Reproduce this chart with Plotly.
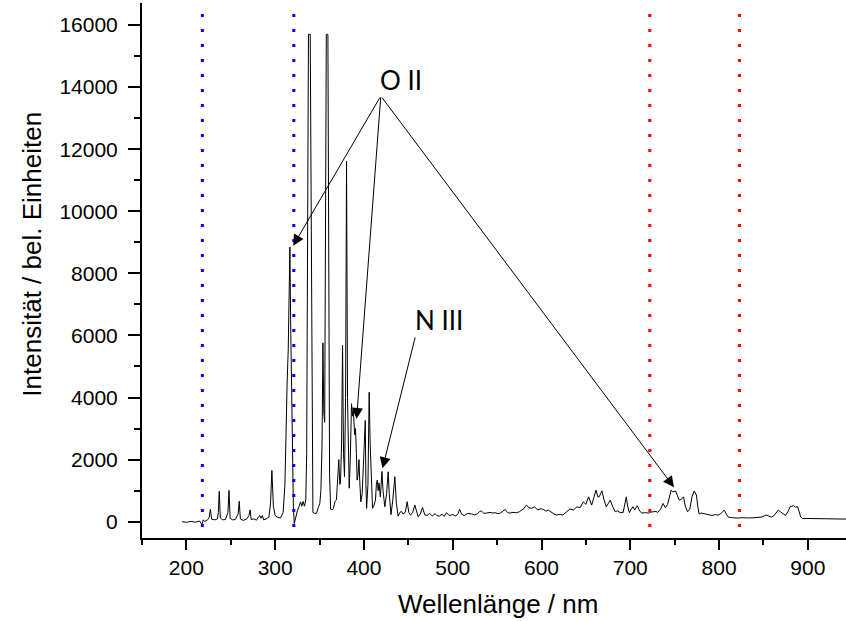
import plotly.graph_objects as go

# ---- spectrum ----
wavelength = [
    195, 200, 205, 210, 215, 217.5, 219, 220.5, 223, 225.5, 227, 228.5, 232, 235, 236, 237, 238.2,
    241, 244, 246.8, 248, 249.3, 252, 255, 258.3, 259.5, 260.8, 264, 268, 270.5, 271.8, 273, 276,
    279, 281, 282.8, 284, 285.6, 287, 290, 293, 294.8, 296.3, 298, 300, 303, 306, 309, 311,
    312, 313.5, 314.7, 315.8, 316.6, 317.4, 318.4, 319.5, 320.5, 321.5, 323, 325, 327, 328.6,
    330, 331.5, 333, 334.5, 335.5, 336.5, 337.5, 339.5, 340.5, 341.5, 342.5, 344.5, 346.6,
    348.5, 350.3, 351.5, 352.8, 353.8, 354.8, 355.8, 356.8, 357.6, 359.4, 360.4, 361.3, 362.5,
    364, 365.5, 367.5, 369, 370.5, 371.7, 372.8, 373.6, 374.8, 375.9, 377, 378.1, 379.3, 380.4,
    381.5, 382.6, 383.4, 384.6, 386, 387, 388, 389.5, 390.5, 391.5, 392.3, 393.3, 394.4, 395.3,
    396.5, 398, 399.5, 400.6, 401.5, 402.2, 403, 404.5, 405.9, 407, 408.5, 409.7, 411, 413,
    414, 415, 416, 417, 418.5, 420.3, 421.5, 423.5, 425.5, 427.3, 428.5, 430.5, 432.5, 434.8,
    436.5, 438.5, 440.5, 442.3, 444, 446.5, 448.7, 450.5, 452.5, 455, 457.3, 459.5, 461,
    463.5, 466, 468.5, 471, 474, 477, 480, 482, 485, 488, 490.5, 493, 496, 500, 503.5,
    506, 507.8, 510, 513, 517, 521, 525, 528, 530.5, 532.4, 535, 538, 542, 545, 547.7,
    551, 554, 556.5, 559, 562, 564.5, 568, 572, 575, 577, 580, 583, 586, 589, 592, 596,
    599, 602, 605, 607.6, 611, 614, 617, 621, 624, 628, 632, 636, 640, 643.5, 647, 650, 653,
    656.5, 659, 661.4, 663.5, 665, 666.5, 668, 670.5, 673, 675.5, 677.5, 680, 683, 685.5,
    688.7, 692, 694, 695.5, 697, 699, 701, 703, 705, 708, 710.5, 713, 717, 720.5, 723, 726,
    729, 731, 734, 737, 739.5, 742, 744, 746, 748, 751, 753, 755, 757.5, 760, 762, 764.5,
    767, 769.5, 772, 774.5, 776, 777.5, 780, 784, 788, 792, 796, 799, 802, 804, 806, 808,
    810.5, 814, 818, 821.7, 825, 829, 833, 838, 844, 848, 851, 853.6, 856, 859, 862, 864.5,
    866.8, 869, 872, 875, 878, 880, 882, 884, 886, 888.5, 890, 892, 894, 900, 905, 910, 915,
    920, 925, 930, 935, 943,
]
intensity = [
    0, -20, 10, -15, 20, -90, 60, 10, 40, 110, 400, 80, 60, 90, 300, 980, 120,
    60, 70, 300, 1010, 110, 60, 70, 250, 660, 90, 40, 90, 200, 380, 70, 90,
    50, 150, 200, 110, 200, 60, 90, 150, 600, 1650, 500, 200, 140, 120, 300, 1200,
    2860, 4500, 5530, 7500, 8850, 6500, 3920, 1500, 500, -60, 150, 350, 500, 640,
    500, 650, 500, 700, 2200, 9000, 15700, 15700, 9000, 2000, 300, 270, 270,
    450, 590, 1000, 2500, 5760, 3500, 3200, 9000, 15700, 15700, 8000, 1500, 400,
    380, 420, 660, 700, 1400, 2000, 1200, 1250, 2500, 5680, 2200, 1450, 4000, 11620,
    4000, 1150, 1080, 2000, 3800, 3400, 3650, 2800, 3000, 2200, 1340, 1500, 2000, 1300,
    640, 900, 2000, 3000, 3260, 1200, 430, 1200, 4170, 2500, 900, 430, 500, 700,
    1200, 1340, 1000, 1250, 800, 1620, 1000, 480, 900, 1610, 900, 230, 700, 1450,
    600, 180, 300, 330, 250, 300, 644, 300, 210, 300, 540, 250, 160,
    250, 460, 220, 200, 270, 180, 260, 200, 180, 240, 170, 290, 200, 230, 180,
    260, 400, 240, 200, 270, 250, 220, 260, 330, 344, 270, 278, 300, 280, 290,
    260, 280, 340, 397, 290, 278, 300, 290, 320, 350, 420, 535, 450, 429, 480, 375,
    420, 397, 340, 375, 300, 250, 215, 240, 215, 300, 407, 380, 481, 450, 641, 560, 801,
    535, 750, 1016, 800, 801, 900, 994, 700, 481, 600, 695, 500, 320, 350,
    291, 300, 600, 801, 500, 290, 400, 481, 380, 513, 350, 278, 290, 278, 310, 320,
    330, 300, 400, 588, 450, 550, 800, 1016, 960, 990, 850, 695, 720, 801, 500, 320,
    400, 800, 990, 860, 500, 250, 280, 250, 220, 200, 230, 210, 260, 330, 375, 250,
    148, 130, 120, 116, 130, 115, 120, 125, 130, 150, 190, 215, 180, 150, 200, 300,
    375, 320, 250, 200, 350, 481, 500, 518, 470, 481, 350, 150, 106, 100, 106, 95, 100,
    90, 95, 90, 88, 85,
]

# ---- marker lines and annotations ----
blue_lines = [218, 321]
red_lines = [722, 823]
line_span = [-170, 16400]

oii_label = ("O II", 441.6, 14230)
oii_tail = (419, 13714)
oii_tips = [(320.3, 8892), (391.7, 3309), (749.3, 1108)]
niii_label = ("N III", 484.3, 6490)
niii_tail = (458.1, 5983)
niii_tips = [(420.9, 1720)]

x_range = [150, 943]
y_range = [-525, 16709]
x_ticks = [200, 300, 400, 500, 600, 700, 800, 900]

fig = go.Figure()
fig.add_trace(go.Scatter(x=wavelength, y=intensity, mode="lines",
                         line=dict(color="black", width=1), hoverinfo="skip"))
for xv in blue_lines:
    fig.add_trace(go.Scatter(x=[xv, xv], y=line_span, mode="lines", hoverinfo="skip",
                             line=dict(color="#0000FF", width=3, dash="3px,12px")))
for xv in red_lines:
    fig.add_trace(go.Scatter(x=[xv, xv], y=line_span, mode="lines", hoverinfo="skip",
                             line=dict(color="#FF0000", width=3, dash="3px,12px")))

TICKFONT = "Liberation Sans, Arial, sans-serif"
anns = []
for (tx, ty) in oii_tips:
    anns.append(dict(x=tx, y=ty, ax=oii_tail[0], ay=oii_tail[1], xref="x", yref="y",
                     axref="x", ayref="y", text="", showarrow=True, arrowhead=2,
                     arrowsize=2.2, arrowwidth=1, arrowcolor="black"))
for (tx, ty) in niii_tips:
    anns.append(dict(x=tx, y=ty, ax=niii_tail[0], ay=niii_tail[1], xref="x", yref="y",
                     axref="x", ayref="y", text="", showarrow=True, arrowhead=2,
                     arrowsize=2.2, arrowwidth=1, arrowcolor="black"))
for (txt, tx, ty) in [oii_label, niii_label]:
    anns.append(dict(x=tx, y=ty, xref="x", yref="y", text=txt, showarrow=False,
                     font=dict(family="Lato, Liberation Sans, sans-serif", size=26, color="black")))
anns.append(dict(x=0.5057, y=-0.1234, xref="paper", yref="paper", text="Wellenlänge / nm",
                 showarrow=False, xanchor="center", yanchor="middle",
                 font=dict(family=TICKFONT, size=26, color="black")))
anns.append(dict(x=-0.156, y=0.53, xref="paper", yref="paper", text="Intensität / bel. Einheiten",
                 showarrow=False, textangle=-90, xanchor="center", yanchor="middle",
                 font=dict(family=TICKFONT, size=26, color="black")))

fig.update_layout(
    width=846, height=621,
    margin=dict(l=142, r=0, t=3, b=83, autoexpand=False),
    paper_bgcolor="white", plot_bgcolor="white",
    showlegend=False,
    annotations=anns,
)
fig.update_xaxes(range=x_range, tickvals=x_ticks, showgrid=False, zeroline=False,
                 automargin=False, showline=True, linecolor="black", linewidth=2,
                 ticks="outside", ticklen=10, tickwidth=2, tickcolor="black",
                 ticklabelstandoff=0,
                 tickfont=dict(family=TICKFONT, size=21, color="black"),
                 minor=dict(dtick=50, tick0=0, ticks="outside", ticklen=5, tickwidth=2, tickcolor="black"))
fig.update_yaxes(range=y_range, tick0=0, dtick=2000, tickformat="d", showgrid=False, zeroline=False,
                 automargin=False, showline=True, linecolor="black", linewidth=2,
                 ticks="outside", ticklen=12, tickwidth=2, tickcolor="black",
                 ticklabelstandoff=6,
                 tickfont=dict(family=TICKFONT, size=21, color="black"),
                 minor=dict(dtick=1000, ticks="outside", ticklen=6, tickwidth=2, tickcolor="black"))

fig.write_html("out.html", config={"displayModeBar": False},
               post_script="document.body.style.margin='0';document.body.style.padding='0';")
